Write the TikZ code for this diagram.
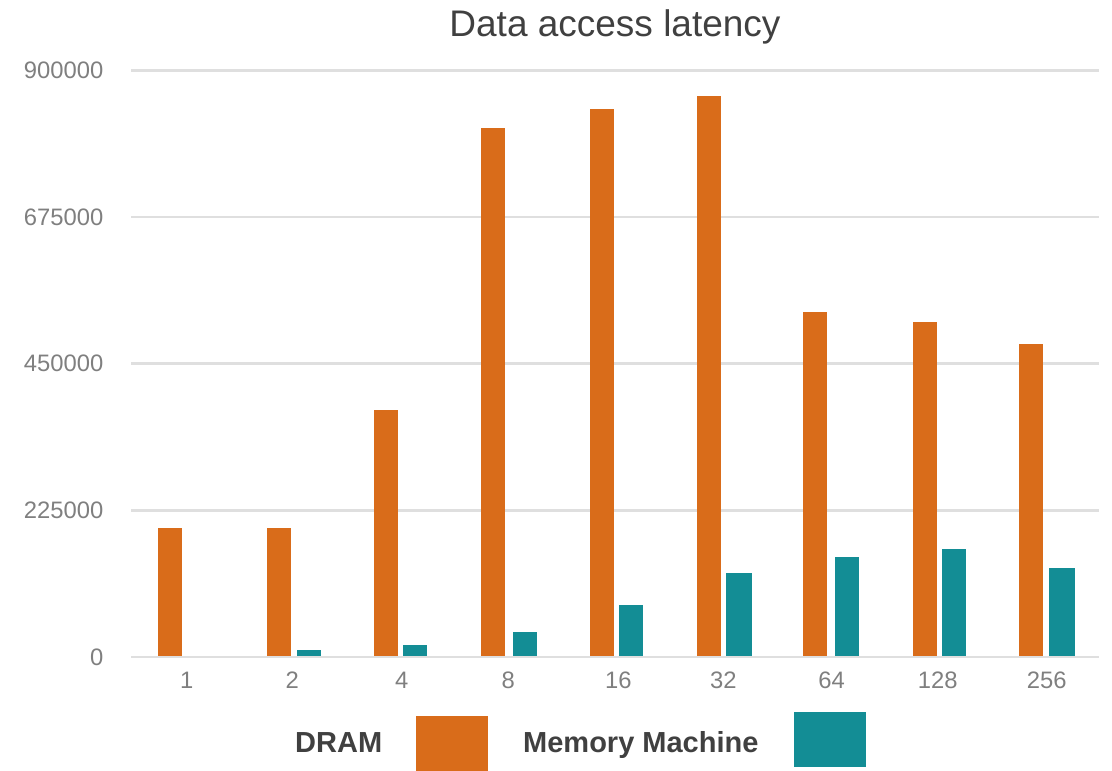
\documentclass[tikz,border=0pt]{standalone}
\usepackage{fontspec}
\setmainfont{Liberation Sans}
\definecolor{dramc}{HTML}{D96C1A}
\definecolor{mmc}{HTML}{138D95}
\definecolor{gridc}{HTML}{DFDFDF}
\definecolor{tickc}{HTML}{7F7F7F}
\definecolor{titlec}{HTML}{404040}
\tikzset{
  ticklabel/.style={inner sep=0pt, text=tickc, font=\fontsize{23.8}{28}\selectfont},
  legendlabel/.style={inner sep=0pt, text=titlec, font=\fontsize{29}{34}\selectfont\bfseries},
  gridline/.style={draw=gridc, line width=2.5pt},
  drambar/.style={fill=dramc},
  mmbar/.style={fill=mmc}
}
\begin{document}
\begin{tikzpicture}[x=1pt,y=-1pt]
\useasboundingbox (0,0) rectangle (1112,771);
% gridlines
\foreach \g in {70.3,217,363.5,510.3,657}
  \draw[gridline] (131,\g) -- (1099,\g);
% DRAM bars
\foreach \l/\t in {158/528,267/528,374/410,481/128,590/109,697/96,803/312,913/322,1019/344}
  \fill[drambar] (\l,\t) rectangle ({\l+24},656);
% Memory Machine bars
\foreach \l/\t/\w in {297/650/24,403/645/24,513/632/24,619/605/24,726/573/26,835/557/24,942/549/24,1049/568/26}
  \fill[mmbar] (\l,\t) rectangle ({\l+\w},656);
% y tick labels
\foreach \v/\y in {900000/70.3,675000/217,450000/363.5,225000/510.3,0/657}
  \node[ticklabel, anchor=east] (y\v) at (103.5,\y) {\v};
% x tick labels
\foreach \c/\x [count=\i] in {1/186.7,2/292.3,4/401.7,8/508.3,16/618.3,32/723.3,64/831.7,128/937.7,256/1046.7}
  \node[ticklabel, anchor=base] (x\i) at (\x,688) {\c};
% title
\node[anchor=base, inner sep=0pt, text=titlec, font=\fontsize{37}{42}\selectfont] (title) at (615,36) {Data access latency};
% legend
\node[legendlabel, anchor=base west] (ldram) at (295,752.3) {DRAM};
\fill[drambar] (416,716) rectangle (488,771);
\node[legendlabel, anchor=base west] (lmm) at (523,752.3) {Memory Machine};
\fill[mmbar] (794,712) rectangle (866,767);
\end{tikzpicture}
\end{document}
